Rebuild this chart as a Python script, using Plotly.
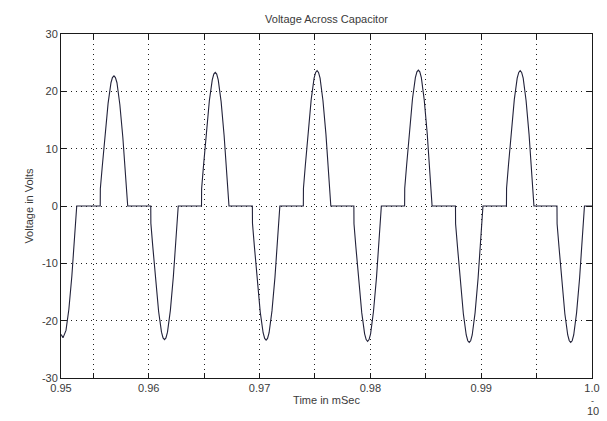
import plotly.graph_objects as go

# Time (mSec, axis units) and capacitor voltage (V)
time_ms = [
    0.95210, 0.95226, 0.95253, 0.95279, 0.95306, 0.95332, 0.95350,
    0.95562, 0.95563, 0.95580, 0.95606, 0.95633, 0.95659, 0.95672, 0.95686, 0.95699, 0.95713, 0.95739, 0.95766, 0.95792, 0.95810,
    0.96018, 0.96019, 0.96036, 0.96062, 0.96089, 0.96115, 0.96129, 0.96142, 0.96155, 0.96169, 0.96195, 0.96222, 0.96248, 0.96266,
    0.96476, 0.96477, 0.96494, 0.96520, 0.96547, 0.96573, 0.96587, 0.96600, 0.96613, 0.96627, 0.96653, 0.96680, 0.96706, 0.96724,
    0.96935, 0.96936, 0.96953, 0.96979, 0.97006, 0.97032, 0.97046, 0.97059, 0.97072, 0.97086, 0.97112, 0.97139, 0.97165, 0.97183,
    0.97395, 0.97396, 0.97413, 0.97439, 0.97466, 0.97492, 0.97506, 0.97519, 0.97532, 0.97546, 0.97572, 0.97599, 0.97625, 0.97643,
    0.97851, 0.97852, 0.97869, 0.97895, 0.97922, 0.97948, 0.97962, 0.97975, 0.97988, 0.98002, 0.98028, 0.98055, 0.98081, 0.98099,
    0.98309, 0.98310, 0.98327, 0.98353, 0.98380, 0.98406, 0.98420, 0.98433, 0.98446, 0.98460, 0.98486, 0.98513, 0.98539, 0.98557,
    0.98768, 0.98769, 0.98786, 0.98812, 0.98839, 0.98865, 0.98879, 0.98892, 0.98905, 0.98919, 0.98945, 0.98972, 0.98998, 0.99016,
    0.99228, 0.99229, 0.99246, 0.99272, 0.99299, 0.99325, 0.99339, 0.99352, 0.99365, 0.99379, 0.99405, 0.99432, 0.99458, 0.99476,
    0.99684, 0.99685, 0.99702, 0.99728, 0.99755, 0.99781, 0.99795, 0.99808, 0.99821, 0.99835, 0.99861, 0.99888, 0.99914, 0.99932,
    1.00000,
]
voltage = [
    -22.4, -23.0, -21.7, -18.0, -12.2, -5.1, 0.0,
    0.0, 3.0, 6.8, 12.5, 17.9, 21.5, 22.4, 22.7, 22.4, 21.5, 17.7, 12.0, 5.0, 0.0,
    0.0, -3.0, -7.0, -12.8, -18.4, -22.0, -23.0, -23.3, -23.0, -22.0, -18.2, -12.3, -5.1, 0.0,
    0.0, 3.0, 7.0, 12.8, 18.4, 22.0, 23.0, 23.3, 23.0, 22.0, 18.2, 12.3, 5.1, 0.0,
    0.0, -3.0, -7.0, -12.9, -18.5, -22.1, -23.1, -23.4, -23.1, -22.1, -18.3, -12.4, -5.1, 0.0,
    0.0, 3.1, 7.1, 13.0, 18.6, 22.3, 23.3, 23.6, 23.3, 22.3, 18.4, 12.5, 5.2, 0.0,
    0.0, -3.1, -7.1, -13.0, -18.6, -22.3, -23.3, -23.6, -23.3, -22.3, -18.4, -12.5, -5.2, 0.0,
    0.0, 3.1, 7.1, 13.0, 18.7, 22.4, 23.4, 23.7, 23.4, 22.4, 18.5, 12.6, 5.2, 0.0,
    0.0, -3.1, -7.1, -13.1, -18.8, -22.5, -23.5, -23.8, -23.5, -22.5, -18.6, -12.6, -5.2, 0.0,
    0.0, 3.1, 7.1, 13.0, 18.6, 22.3, 23.3, 23.6, 23.3, 22.3, 18.4, 12.5, 5.2, 0.0,
    0.0, -3.1, -7.1, -13.1, -18.8, -22.5, -23.5, -23.8, -23.5, -22.5, -18.6, -12.6, -5.2, 0.0,
    0.0,
]

x_tickvals = [0.95208, 0.955, 0.96, 0.965, 0.97, 0.975, 0.98, 0.985, 0.99, 0.995, 1.0]
x_ticktext = ["0.95", "", "0.96", "", "0.97", "", "0.98", "", "0.99", "", "1.0"]
y_tickvals = [-30, -20, -10, 0, 10, 20, 30]
y_ticktext = ["-30", "-20", "-10", "0", "10", "20", "30"]

font = dict(family="Liberation Sans, Arial, sans-serif", size=11, color="#3a3a3a")

fig = go.Figure()
fig.add_trace(go.Scatter(
    x=time_ms, y=voltage, mode="lines",
    line=dict(color="#22223a", width=1.1),
    hoverinfo="skip", showlegend=False,
))

axis_common = dict(
    showline=True, mirror="ticks", linecolor="#1a1a1a", linewidth=1,
    ticks="inside", ticklen=5, tickcolor="#1a1a1a",
    showgrid=True, gridcolor="#202020", gridwidth=1, griddash="1px,4px",
    zeroline=False, tickfont=font,
)

fig.update_layout(
    width=607, height=421,
    margin=dict(l=61, r=7, t=34, b=43),
    paper_bgcolor="white", plot_bgcolor="white",
    font=font,
    title=dict(text="Voltage Across Capacitor", xref="paper", x=0.5, xanchor="center",
               y=0.955, yanchor="middle", font=dict(size=11, color="#3a3a3a")),
    xaxis=dict(range=[0.95208, 1.0], tickmode="array", tickvals=x_tickvals,
               ticktext=x_ticktext, ticklabeloverflow="allow",
               title=dict(text="Time in mSec", standoff=2, font=font),
               **axis_common),
    yaxis=dict(range=[-30, 30], tickmode="array", tickvals=y_tickvals,
               ticktext=y_ticktext,
               title=dict(text="Voltage in Volts", standoff=6, font=font),
               **axis_common),
)

fig.add_annotation(text="10", xref="paper", yref="paper", x=1.0, y=-0.096,
                   xanchor="left", yanchor="middle", xshift=-7, showarrow=False,
                   font=font)
fig.add_annotation(text="-", xref="paper", yref="paper", x=1.0, y=-0.066,
                   xanchor="left", yanchor="middle", xshift=-3, showarrow=False,
                   font=dict(family=font["family"], size=9, color="#3a3a3a"))

fig.write_html("out.html")
